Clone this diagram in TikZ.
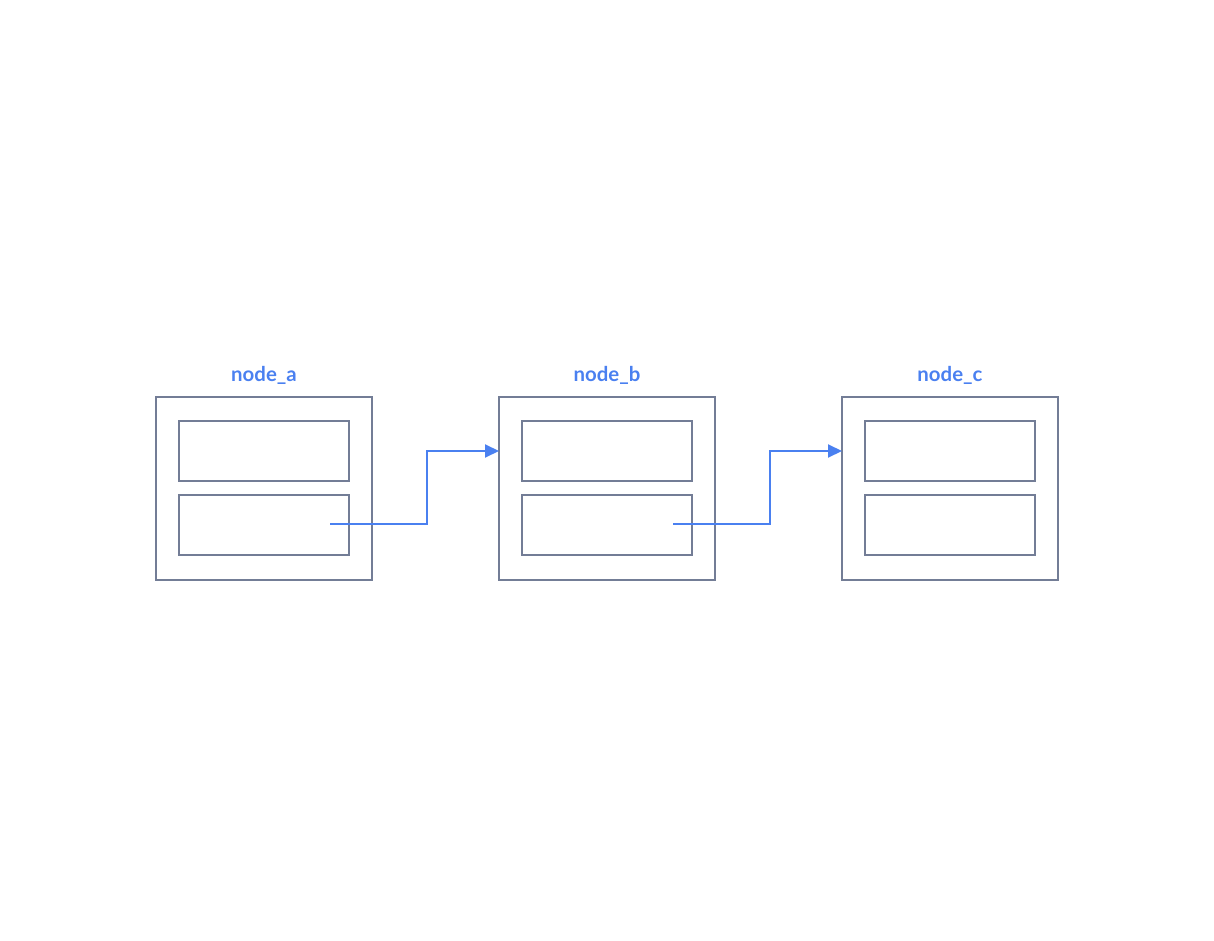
\documentclass[tikz,border=0pt]{standalone}
\usepackage{fontspec}
\setmainfont{Lato}
\usetikzlibrary{arrows.meta,calc}
\definecolor{boxgray}{RGB}{115,125,150}
\definecolor{linkblue}{RGB}{74,128,240}
\begin{document}
\begin{tikzpicture}[x=0.75pt,y=-0.75pt,
  outerbox/.style={draw=boxgray,line width=1.5pt,minimum width=162pt,minimum height=137.25pt,inner sep=0pt,outer sep=0pt},
  innerbox/.style={draw=boxgray,line width=1.5pt,minimum width=127.5pt,minimum height=45pt,inner sep=0pt,outer sep=0pt},
  lbl/.style={text=linkblue,font=\fontsize{15.3pt}{18pt}\selectfont\bfseries,inner sep=0pt},
  link/.style={draw=linkblue,line width=1.5pt,-{Triangle[length=10.5pt,width=9.75pt]}}]
\useasboundingbox (0,0) rectangle (1214,941);
\foreach \n/\x in {a/264,b/607,c/950}{
  \node[outerbox] (\n out) at (\x,488.5) {};
  \node[innerbox] (\n top) at (\x,451) {};
  \node[innerbox] (\n bot) at (\x,525) {};
  \node[lbl] (\n lab) at (\x,375.5) {node\_\n};
}
\coordinate (as) at (330,524);
\coordinate (bs) at (673,524);
\draw[link] (as) -- (427,524) |- (bout.west |- btop);
\draw[link] (bs) -- (770,524) |- (cout.west |- ctop);
\end{tikzpicture}
\end{document}
